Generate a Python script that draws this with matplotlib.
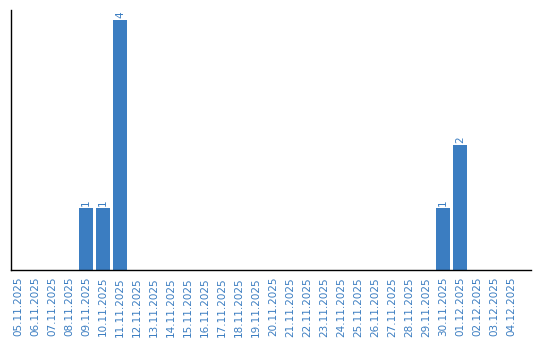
import matplotlib.pyplot as plt
import numpy as np

dates = ['05.11.2025', '06.11.2025', '07.11.2025', '08.11.2025', '09.11.2025',
         '10.11.2025', '11.11.2025', '12.11.2025', '13.11.2025', '14.11.2025',
         '15.11.2025', '16.11.2025', '17.11.2025', '18.11.2025', '19.11.2025',
         '20.11.2025', '21.11.2025', '22.11.2025', '23.11.2025', '24.11.2025',
         '25.11.2025', '26.11.2025', '27.11.2025', '28.11.2025', '29.11.2025',
         '30.11.2025', '01.12.2025', '02.12.2025', '03.12.2025', '04.12.2025']
counts = [0, 0, 0, 0, 1, 1, 4, 0, 0, 0,
          0, 0, 0, 0, 0, 0, 0, 0, 0, 0,
          0, 0, 0, 0, 0, 1, 2, 0, 0, 0]

BLUE = '#3b7dc1'

fig = plt.figure(figsize=(5.4, 3.4), dpi=100)
fig.patch.set_facecolor('white')
ax = fig.add_axes([11 / 540, 70 / 340, 520 / 540, 260 / 340])

x = np.arange(len(dates))
ax.bar(x, counts, width=0.82, color=BLUE)
for xi, v in zip(x, counts):
    if v > 0:
        ax.text(xi, v + 0.03, str(v), rotation=90, ha='center', va='bottom',
                fontsize=7.5, color=BLUE)

ax.set_xlim(-0.41, 30.18)
ax.set_ylim(0, 4.16)
ax.set_yticks([])
ax.set_xticks(x)
ax.set_xticklabels(dates, rotation=90, fontsize=7.5, color=BLUE)
ax.tick_params(axis='x', length=0, pad=5)
for s in ['top', 'right']:
    ax.spines[s].set_visible(False)
for s in ['left', 'bottom']:
    ax.spines[s].set_linewidth(1.0)

fig.savefig('out.png', dpi=100, facecolor='white')
